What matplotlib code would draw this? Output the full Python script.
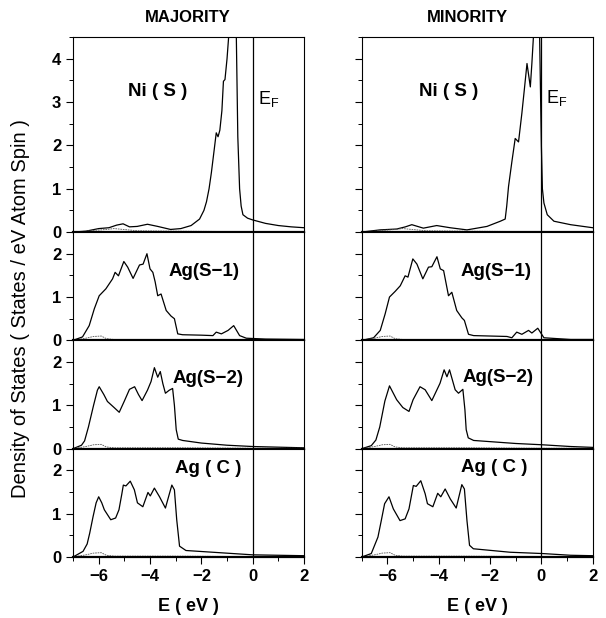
import numpy as np
import matplotlib
matplotlib.use('Agg')
import matplotlib.pyplot as plt
from matplotlib.ticker import MultipleLocator

plt.rcParams['font.family'] = ['Liberation Sans', 'DejaVu Sans']

# Energy grid / DOS (E in eV, DOS in states/eV atom spin)
maj_ni_e = [-7.0, -6.5, -6.0, -5.6, -5.3, -5.05, -4.8, -4.5, -4.1, -3.7, -3.2, -2.8, -2.4, -2.07,
            -1.9, -1.8, -1.7, -1.61, -1.5, -1.42, -1.35, -1.28, -1.2, -1.14, -1.08, -1.0, -0.9,
            -0.8, -0.7, -0.64, -0.58, -0.51, -0.45, -0.38, -0.2, 0.0, 0.5, 1.0, 1.5, 2.0]
maj_ni = [0.0, 0.02, 0.08, 0.1, 0.16, 0.19, 0.12, 0.13, 0.18, 0.13, 0.06, 0.08, 0.15, 0.3,
          0.5, 0.7, 1.0, 1.37, 1.9, 2.29, 2.2, 2.35, 2.8, 3.48, 3.52, 4.0, 4.8,
          5.8, 5.9, 4.6, 2.2, 1.0, 0.6, 0.4, 0.32, 0.28, 0.2, 0.15, 0.12, 0.1]

maj_s1_e = [-7.0, -6.63, -6.37, -6.17, -5.98, -5.72, -5.46, -5.36, -5.23, -5.02, -4.87, -4.66,
            -4.41, -4.27, -4.12, -4.0, -3.89, -3.8, -3.7, -3.57, -3.37, -3.18, -3.05, -2.92,
            -2.73, -2.0, -1.55, -1.42, -1.22, -0.96, -0.74, -0.51, -0.25, 0.5, 2.0]
maj_s1 = [0.0, 0.08, 0.34, 0.73, 1.03, 1.19, 1.42, 1.57, 1.49, 1.82, 1.69, 1.43,
          1.74, 1.76, 2.0, 1.65, 1.57, 1.35, 1.03, 1.07, 0.69, 0.56, 0.5, 0.15,
          0.13, 0.12, 0.11, 0.19, 0.15, 0.23, 0.34, 0.11, 0.05, 0.03, 0.02]

maj_s2_e = [-7.0, -6.67, -6.55, -6.4, -6.2, -6.05, -5.98, -5.8, -5.66, -5.4, -5.2, -5.0, -4.8,
            -4.6, -4.45, -4.31, -4.1, -3.96, -3.83, -3.7, -3.6, -3.5, -3.4, -3.25, -3.12,
            -3.05, -2.98, -2.9, -2.73, -2.0, -1.0, 0.0, 2.0]
maj_s2 = [0.0, 0.08, 0.18, 0.5, 1.0, 1.35, 1.43, 1.25, 1.09, 0.95, 0.84, 1.1, 1.37,
          1.43, 1.25, 1.11, 1.35, 1.55, 1.87, 1.65, 1.78, 1.5, 1.28, 1.35, 1.39,
          1.0, 0.44, 0.22, 0.19, 0.13, 0.08, 0.05, 0.02]

maj_c_e = [-7.0, -6.61, -6.45, -6.35, -6.22, -6.1, -6.0, -5.88, -5.78, -5.53, -5.34, -5.21,
           -5.1, -5.04, -4.94, -4.77, -4.61, -4.49, -4.28, -4.08, -3.99, -3.83, -3.63, -3.4,
           -3.25, -3.15, -3.05, -2.96, -2.85, -2.6, -1.04, 0.0, 2.0]
maj_c = [0.0, 0.13, 0.3, 0.55, 0.93, 1.25, 1.39, 1.25, 1.09, 0.86, 0.9, 1.09,
         1.45, 1.66, 1.64, 1.75, 1.55, 1.25, 1.16, 1.49, 1.41, 1.59, 1.39, 1.13,
         1.45, 1.66, 1.55, 0.86, 0.25, 0.15, 0.09, 0.05, 0.03]

min_ni_e = [-7.0, -6.29, -5.64, -5.3, -5.05, -4.6, -4.08, -3.56, -2.9, -2.12, -1.6, -1.41,
            -1.35, -1.28, -1.15, -1.02, -0.89, -0.76, -0.66, -0.56, -0.43, -0.37, -0.3,
            -0.22, -0.12, -0.07, 0.0, 0.04, 0.1, 0.23, 0.49, 1.14, 2.0]
min_ni = [0.0, 0.05, 0.07, 0.12, 0.17, 0.09, 0.15, 0.1, 0.05, 0.13, 0.25, 0.3,
          0.6, 1.05, 1.62, 2.16, 2.08, 2.74, 3.31, 3.89, 3.35, 3.89, 4.6,
          5.6, 5.6, 4.6, 2.0, 1.0, 0.67, 0.4, 0.25, 0.17, 0.1]

min_s1_e = [-7.0, -6.54, -6.28, -6.09, -5.92, -5.7, -5.5, -5.31, -5.2, -5.01, -4.85, -4.62,
            -4.4, -4.27, -4.07, -3.94, -3.81, -3.62, -3.49, -3.3, -3.1, -3.0, -2.84, -2.64,
            -1.34, -1.15, -0.96, -0.76, -0.5, -0.37, -0.14, 0.1, 1.14, 2.0]
min_s1 = [0.0, 0.06, 0.23, 0.61, 1.0, 1.13, 1.26, 1.49, 1.46, 1.88, 1.76, 1.42,
          1.69, 1.7, 1.93, 1.65, 1.61, 1.03, 1.11, 0.69, 0.52, 0.46, 0.14, 0.11,
          0.09, 0.06, 0.19, 0.14, 0.23, 0.17, 0.28, 0.06, 0.02, 0.02]

min_s2_e = [-7.0, -6.63, -6.45, -6.3, -6.1, -5.92, -5.64, -5.4, -5.16, -5.0, -4.73, -4.53,
            -4.27, -3.95, -3.79, -3.68, -3.58, -3.36, -3.23, -3.06, -2.98, -2.93, -2.85,
            -2.64, -1.0, 0.04, 1.14, 2.0]
min_s2 = [0.0, 0.07, 0.2, 0.5, 1.1, 1.45, 1.13, 0.95, 0.86, 1.13, 1.43, 1.36,
          1.11, 1.51, 1.82, 1.66, 1.82, 1.36, 1.28, 1.37, 0.9, 0.44, 0.25,
          0.19, 0.12, 0.09, 0.05, 0.03]

min_c_e = [-7.0, -6.63, -6.37, -6.24, -6.11, -5.94, -5.77, -5.51, -5.31, -5.16, -4.99, -4.88,
           -4.7, -4.53, -4.44, -4.23, -4.04, -3.92, -3.75, -3.55, -3.32, -3.1, -3.0, -2.9,
           -2.8, -2.65, -1.22, 0.04, 1.14, 2.0]
min_c = [0.0, 0.08, 0.46, 0.84, 1.23, 1.39, 1.11, 0.84, 0.88, 1.11, 1.65, 1.63,
         1.76, 1.46, 1.23, 1.16, 1.47, 1.39, 1.57, 1.34, 1.13, 1.67, 1.57, 0.84,
         0.27, 0.19, 0.11, 0.08, 0.04, 0.03]

# faint s,p partial curves near the baseline
sp_e = [-7.0, -6.5, -6.2, -5.9, -5.7, -5.4, -4.5, -3.0, 0.0, 2.0]
sp_ag = [0.0, 0.05, 0.09, 0.1, 0.04, 0.02, 0.02, 0.02, 0.01, 0.01]
sp_ni = [0.0, 0.02, 0.04, 0.05, 0.06, 0.08, 0.03, 0.02, 0.01, 0.01]

labels = ['Ni ( S )', 'Ag(S\u22121)', 'Ag(S\u22122)', 'Ag ( C )']
ymax = [4.5, 2.5, 2.5, 2.5]
columns = [
    ('MAJORITY', [(maj_ni_e, maj_ni), (maj_s1_e, maj_s1), (maj_s2_e, maj_s2), (maj_c_e, maj_c)],
     [(-3.7, 3.25), (-1.9, 1.6), (-1.75, 1.63), (-1.75, 2.05)], (0.22, 3.08), 0.310),
    ('MINORITY', [(min_ni_e, min_ni), (min_s1_e, min_s1), (min_s2_e, min_s2), (min_c_e, min_c)],
     [(-3.6, 3.25), (-1.75, 1.58), (-1.68, 1.64), (-1.85, 2.07)], (0.2, 3.1), 0.772),
]

fig = plt.figure(figsize=(6.06, 6.18), dpi=100)
lefts = [(0.1205, 0.5017), (0.597, 0.978)]

for c, (title, curves, lab_pos, ef_pos, title_x) in enumerate(columns):
    gs = fig.add_gridspec(4, 1, height_ratios=ymax, hspace=0,
                          left=lefts[c][0], right=lefts[c][1], top=0.940, bottom=0.0987)
    for r in range(4):
        ax = fig.add_subplot(gs[r])
        e, d = curves[r]
        ax.plot(e, d, color='black', lw=0.9)
        ax.plot(sp_e, sp_ni if r == 0 else sp_ag, color='#555555', lw=0.6, ls=(0, (2, 1)))
        ax.axvline(0, color='black', lw=0.9)
        ax.set_xlim(-7, 2)
        ax.set_ylim(0, ymax[r])
        ax.yaxis.set_major_locator(MultipleLocator(1))
        ax.yaxis.set_minor_locator(MultipleLocator(0.5))
        ax.xaxis.set_major_locator(MultipleLocator(2))
        ax.xaxis.set_minor_locator(MultipleLocator(1))
        ax.tick_params(which='major', direction='out', length=5, width=0.8, labelsize=12)
        ax.tick_params(which='minor', direction='out', length=3, width=0.7)
        for lab in ax.get_yticklabels() + ax.get_xticklabels():
            lab.set_fontweight('bold')
        if c == 1:
            ax.tick_params(axis='y', labelleft=False)
        if r < 3:
            ax.tick_params(axis='x', which='both', labelbottom=False, length=0)
        for s in ax.spines.values():
            s.set_linewidth(0.8)
        ax.spines['bottom'].set_linewidth(1.6)
        lx, ly = lab_pos[r]
        ax.text(lx, ly, labels[r], ha='center', va='center', fontsize=13.5, fontweight='bold')
        if r == 0:
            ax.text(ef_pos[0], ef_pos[1], r'E$_\mathregular{F}$', ha='left', va='center', fontsize=13)
        if r == 3:
            ax.set_xlabel('E ( eV )', fontsize=13, fontweight='bold', labelpad=10)
    fig.text(title_x, 0.972, title, ha='center', va='center', fontsize=12, fontweight='bold')

fig.text(0.034, 0.5, 'Density of States ( States / eV Atom Spin )', rotation=90,
         ha='center', va='center', fontsize=14.5)

plt.savefig('out.png', dpi=100)
